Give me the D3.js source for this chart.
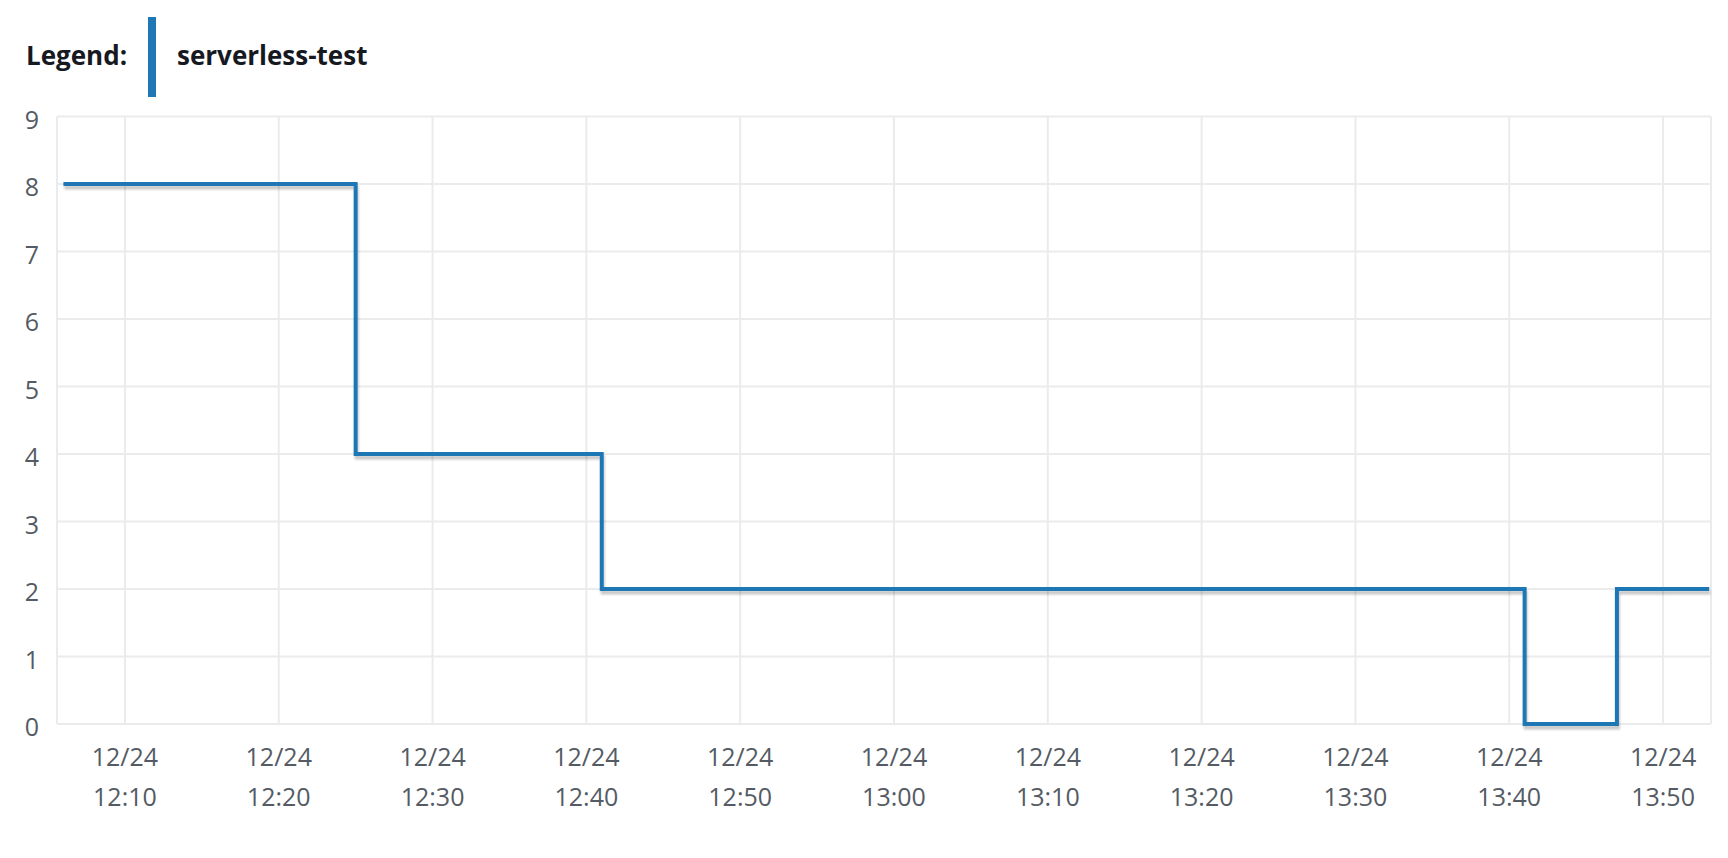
<!DOCTYPE html>
<head>
    <meta charset="utf-8">
    <script src="https://d3js.org/d3.v7.min.js"></script>
    <style>
        body {
            margin: 0;
            padding: 0;
            background: #ffffff;
            font-family: "Open Sans", sans-serif;
        }
        .grid line { stroke: #ebebeb; stroke-width: 2; }
        .tick-label { fill: #545b64; font-size: 25px; }
    </style>
</head>
<body>
<div id="my_dataviz"></div>
<script>
    // step points (time on 12/24, value)
    var seriesName = "serverless-test";
    var times = ["12:06", "12:25", "12:41", "13:41", "13:47", "13:53"];
    var values = [8, 4, 2, 0, 2, 2];

    // axes
    var yTicks = [0, 1, 2, 3, 4, 5, 6, 7, 8, 9];
    var xTicks = ["12:10", "12:20", "12:30", "12:40", "12:50", "13:00", "13:10", "13:20", "13:30", "13:40", "13:50"];
    var dateLabel = "12/24";
    var xDomain = ["12:05:35", "13:53:07"];

    var parseTime = function (s) {
        var p = s.split(":").map(Number);
        return new Date(2023, 11, 24, p[0], p[1], p[2] || 0);
    };

    var data = times.map(function (t, i) { return { t: parseTime(t), v: values[i] }; });

    // set the dimensions and margins of the graph
    var W = 1728, H = 858;
    var margin = { top: 116.5, right: 17, bottom: 134, left: 57 },
        width = W - margin.left - margin.right,
        height = H - margin.top - margin.bottom;

    var root = d3.select("#my_dataviz")
        .append("svg")
        .attr("width", W)
        .attr("height", H);

    // drop shadow under the line
    var defs = root.append("defs");
    var f = defs.append("filter").attr("id", "shadow")
        .attr("x", "-5%").attr("y", "-5%").attr("width", "110%").attr("height", "110%");
    f.append("feDropShadow")
        .attr("dx", 1).attr("dy", 3.5).attr("stdDeviation", 1.2)
        .attr("flood-color", "#000").attr("flood-opacity", 0.22);

    // legend
    var legend = root.append("g");
    legend.append("text")
        .attr("x", 26).attr("y", 65)
        .style("font-size", "26px").style("font-weight", "bold").style("fill", "#16191f")
        .text("Legend:");
    legend.append("rect")
        .attr("x", 148).attr("y", 17).attr("width", 8).attr("height", 80)
        .style("fill", "#1f77b4");
    legend.append("text")
        .attr("x", 177).attr("y", 65)
        .style("font-size", "26px").style("font-weight", "bold").style("fill", "#16191f")
        .text(seriesName);

    var svg = root.append("g")
        .attr("transform", "translate(" + margin.left + "," + margin.top + ")");

    var x = d3.scaleTime()
        .domain(xDomain.map(parseTime))
        .range([0, width]);

    var y = d3.scaleLinear()
        .domain([0, 9])
        .range([height, 0]);

    // grid
    var grid = svg.append("g").attr("class", "grid");
    grid.selectAll("line.h")
        .data(yTicks)
        .enter()
        .append("line")
        .attr("x1", 0).attr("x2", width)
        .attr("y1", function (d) { return y(d); })
        .attr("y2", function (d) { return y(d); });
    grid.selectAll("line.v")
        .data(xTicks)
        .enter()
        .append("line")
        .attr("x1", function (d) { return x(parseTime(d)); })
        .attr("x2", function (d) { return x(parseTime(d)); })
        .attr("y1", 0).attr("y2", height);
    grid.append("line").attr("x1", 0).attr("x2", 0).attr("y1", 0).attr("y2", height);
    grid.append("line").attr("x1", width).attr("x2", width).attr("y1", 0).attr("y2", height);

    // Y labels
    svg.append("g")
        .selectAll("text")
        .data(yTicks)
        .enter()
        .append("text")
        .attr("class", "tick-label")
        .attr("x", -18)
        .attr("y", function (d) { return y(d) + 2; })
        .attr("text-anchor", "end")
        .attr("dominant-baseline", "central")
        .text(function (d) { return d; });

    // X labels (two lines)
    var xl = svg.append("g")
        .selectAll("g")
        .data(xTicks)
        .enter()
        .append("g")
        .attr("transform", function (d) { return "translate(" + x(parseTime(d)) + ",0)"; });
    xl.append("text")
        .attr("class", "tick-label")
        .attr("y", height + 32)
        .attr("text-anchor", "middle")
        .attr("dominant-baseline", "central")
        .text(dateLabel);
    xl.append("text")
        .attr("class", "tick-label")
        .attr("y", height + 72)
        .attr("text-anchor", "middle")
        .attr("dominant-baseline", "central")
        .text(function (d) { return d; });

    // the step line
    var line = d3.line()
        .curve(d3.curveStepAfter)
        .x(function (d) { return x(d.t); })
        .y(function (d) { return y(d.v); });

    svg.append("path")
        .datum(data)
        .attr("d", line)
        .attr("fill", "none")
        .attr("stroke", "#1f77b4")
        .attr("stroke-width", 4)
        .attr("filter", "url(#shadow)");
</script>
</body>
